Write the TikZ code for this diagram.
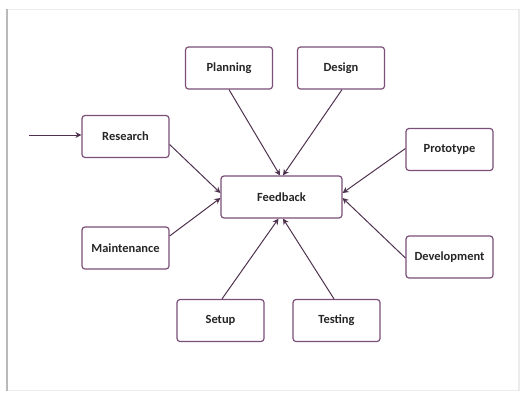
\documentclass[tikz,border=0pt]{standalone}
\usepackage{fontspec}
\setmainfont{Carlito}
\usetikzlibrary{arrows.meta}
\definecolor{boxline}{HTML}{7A4F78}
\definecolor{conn}{HTML}{4E324E}
\tikzset{
  stage/.style={draw=boxline, line width=1.2pt, rounded corners=3pt, fill=white,
    minimum width=87bp, minimum height=42bp, font=\bfseries\fontsize{12.5}{14}\selectfont, text=black!85, inner sep=0pt},
  hub/.style={stage, minimum width=121bp},
  link/.style={draw=conn, line width=1pt, -{Stealth[length=6pt,width=6pt]}}
}
\begin{document}
\begin{tikzpicture}[x=1bp,y=-1bp]
\useasboundingbox (0,0) rectangle (520,392);
% frame
\draw[gray!15, line width=1.5pt] (7,9.5) -- (519,9.5) -- (519,390.5) -- (7,390.5);
\draw[gray!55, line width=2pt] (7,9) -- (7,391);
% nodes
\node[hub] (fb) at (281.5,197) {Feedback};
\node[stage] (plan) at (229,68) {Planning};
\node[stage] (des) at (341,68) {Design};
\node[stage] (res) at (125.5,136.5) {Research};
\node[stage] (proto) at (449.5,149.5) {Prototype};
\node[stage] (main) at (125.5,248) {Maintenance};
\node[stage] (dev) at (449.5,257) {Development};
\node[stage] (setup) at (220.5,320.5) {Setup};
\node[stage] (test) at (336.5,320.5) {Testing};
\coordinate (start) at (29,135);
% connectors
\draw[link] (start) -- (res.west |- start);
\draw[link] ([yshift=-8bp]res.east) -- ([yshift=4bp]fb.west);
\draw[link] ([yshift=12bp]main.east) -- ([yshift=-1bp]fb.west);
\draw[link] ([xshift=0bp]plan.south) -- ([xshift=-1.5bp]fb.north);
\draw[link] ([xshift=1bp]des.south) -- ([xshift=1.5bp]fb.north);
\draw[link] ([yshift=1bp]proto.west) -- ([yshift=4bp]fb.east);
\draw[link] ([yshift=-1bp]dev.west) -- ([yshift=-1bp]fb.east);
\draw[link] ([xshift=1.5bp]setup.north) -- ([xshift=-3bp]fb.south);
\draw[link] ([xshift=-2.5bp]test.north) -- ([xshift=1.5bp]fb.south);
\end{tikzpicture}
\end{document}
